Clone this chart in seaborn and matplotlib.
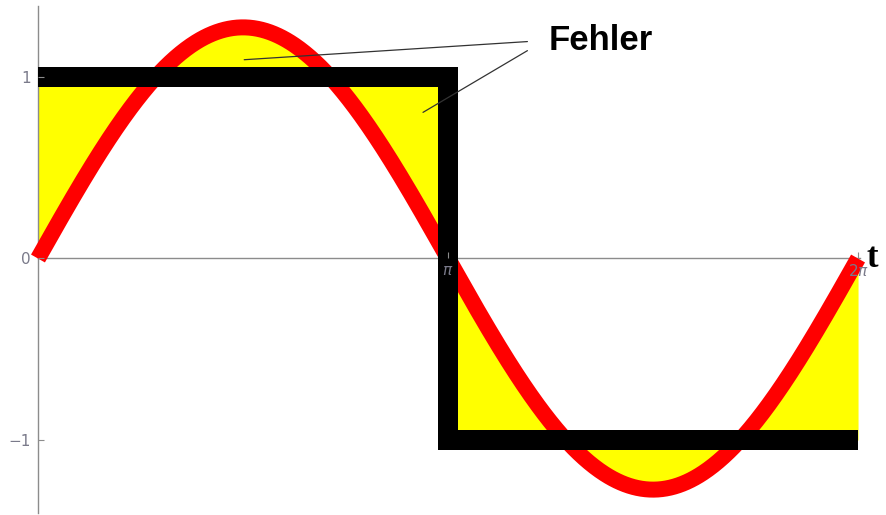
import numpy as np
import pandas as pd
import matplotlib
matplotlib.use("Agg")
import matplotlib.pyplot as plt
import seaborn as sns

# Square wave (one period) and its first Fourier harmonic
square_t = [0.0, np.pi, np.pi, 2 * np.pi]
square_y = [1.0, 1.0, -1.0, -1.0]
harmonic_amplitude = 4 / np.pi
y_ticks = [-1, 0, 1]
y_tick_labels = ["\u22121", "0", "1"]
x_ticks = [np.pi, 2 * np.pi]
x_tick_labels = [r"$\pi$", r"$2\pi$"]
label_text = "Fehler"
axis_name = "t"

t = np.linspace(0, 2 * np.pi, 800)
harmonic = harmonic_amplitude * np.sin(t)
square_dense = np.where(t < np.pi, 1.0, -1.0)

sns.set_style("white")
fig = plt.figure(figsize=(8.87, 5.15), dpi=100)
ax = fig.add_axes([0, 0, 1, 1])

# error area between wave and harmonic
ax.fill_between(t, harmonic, square_dense, color="#ffff00", lw=0, zorder=1)

sns.lineplot(x=t, y=harmonic, ax=ax, color="#ff0000", lw=11.5,
             sort=False, estimator=None, zorder=3,
             solid_capstyle="butt")
sns.lineplot(x=square_t, y=square_y, ax=ax, color="black", lw=14.4,
             sort=False, estimator=None, zorder=4,
             solid_capstyle="butt", solid_joinstyle="miter")

ax.set_xlim(-0.291, 6.505)
ax.set_ylim(-1.413, 1.424)

for s in ["top", "right"]:
    ax.spines[s].set_visible(False)
ax.spines["left"].set_position(("data", 0))
ax.spines["bottom"].set_position(("data", 0))
ax.spines["left"].set_bounds(-1.40, 1.39)
ax.spines["bottom"].set_bounds(0, 6.30)
for s in ["left", "bottom"]:
    ax.spines[s].set_color("#8c8c8c")
    ax.spines[s].set_linewidth(1.0)
    ax.spines[s].set_zorder(2)

ax.set_yticks(y_ticks)
ax.set_yticklabels(y_tick_labels)
ax.set_xticks(x_ticks)
ax.set_xticklabels(x_tick_labels)
ax.tick_params(axis="both", direction="in", length=4, width=0.8,
               color="#8c8c8c", labelcolor="#7a7a8a", labelsize=11,
               left=True, bottom=True)
ax.tick_params(axis="y", pad=5)
ax.tick_params(axis="x", pad=3)
# tick marks and labels sit on top of the curves
ax.xaxis.set_zorder(5)
ax.yaxis.set_zorder(5)

ax.text(6.35, 0.0, axis_name, family="Liberation Serif", fontweight="bold",
        fontsize=25, va="center", ha="left", color="black")

ax.text(3.91, 1.20, label_text, family="Liberation Sans", fontweight="bold",
        fontsize=25, va="center", ha="left", color="black", zorder=6)
ax.plot([3.75, 1.58], [1.195, 1.095], color="#333333", lw=0.9, zorder=5)
ax.plot([3.75, 2.95], [1.145, 0.805], color="#333333", lw=0.9, zorder=5)

fig.savefig("out.png", dpi=100)
